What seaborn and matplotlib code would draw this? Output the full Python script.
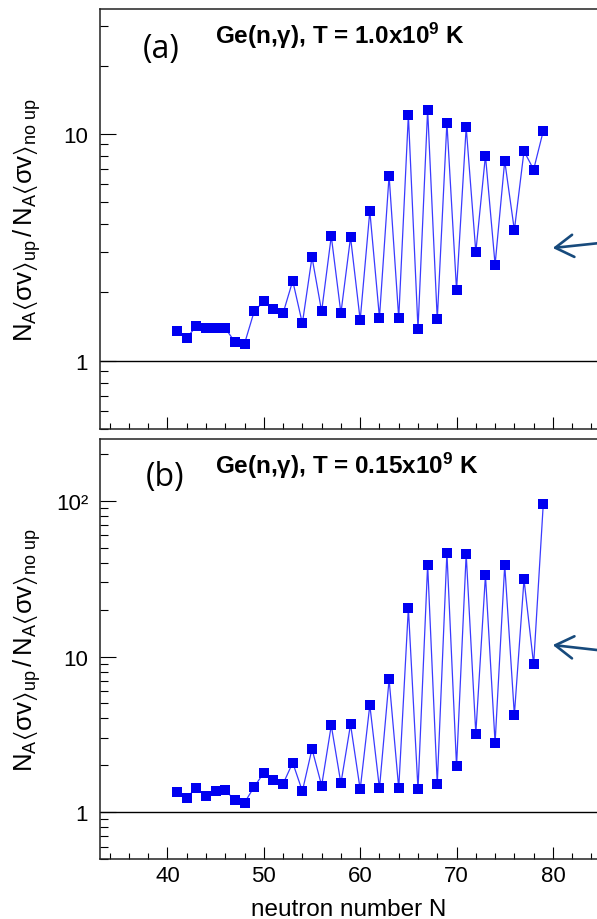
import numpy as np
import pandas as pd
import matplotlib
matplotlib.use("Agg")
import matplotlib.pyplot as plt
import matplotlib.ticker as mticker
import seaborn as sns

# ---- data ----
N = list(range(41, 80))
ratio_T10 = [1.35, 1.26, 1.42, 1.39, 1.40, 1.39, 1.21, 1.19, 1.65, 1.83,
             1.69, 1.62, 2.25, 1.46, 2.86, 1.65, 3.54, 1.62, 3.50, 1.51,
             4.57, 1.55, 6.55, 1.54, 12.1, 1.38, 12.8, 1.52, 11.2, 2.05,
             10.7, 3.01, 8.02, 2.65, 7.60, 3.76, 8.39, 6.96, 10.3]
ratio_T015 = [1.345, 1.24, 1.43, 1.27, 1.365, 1.385, 1.19, 1.15, 1.455, 1.79,
              1.60, 1.52, 2.08, 1.365, 2.55, 1.48, 3.61, 1.53, 3.66, 1.40,
              4.88, 1.42, 7.13, 1.42, 20.5, 1.40, 38.9, 1.52, 46.5, 1.97,
              45.6, 3.20, 33.4, 2.78, 38.8, 4.21, 31.3, 8.90, 95.7]
titles = ["Ge(n,$\\mathregular{\\gamma}$), T = 1.0x10$^{\\mathbf{9}}$ K",
          "Ge(n,$\\mathregular{\\gamma}$), T = 0.15x10$^{\\mathbf{9}}$ K"]
panel_tags = ["(a)", "(b)"]
ytick_vals = [[1, 10], [1, 10, 100]]
ytick_labels = [["1", "10"], ["1", "10", "10\u00b2"]]
ylims = [(0.5, 35.5), (0.5, 250)]
xticks = [40, 50, 60, 70, 80]
xlabel = "neutron number N"
ylabel = r"$\mathregular{N_A\langle\sigma v\rangle_{up}\,/\,N_A\langle\sigma v\rangle_{no\ up}}$"

sns.set_theme(style="ticks")
plt.rcParams["font.family"] = ["Liberation Sans", "DejaVu Sans"]
plt.rcParams["mathtext.fontset"] = "custom"
plt.rcParams["mathtext.rm"] = "Liberation Sans"
plt.rcParams["mathtext.it"] = "Liberation Sans:italic"
plt.rcParams["mathtext.bf"] = "Liberation Sans:bold"
for key in ["text.color", "axes.labelcolor", "xtick.color", "ytick.color"]:
    plt.rcParams[key] = "black"

W, H = 597, 920
fig = plt.figure(figsize=(W / 100, H / 100), dpi=100)

AX_L, AX_R = 100, 630

def fpos(left, top, right, bottom):
    return [left / W, 1 - bottom / H, (right - left) / W, (bottom - top) / H]

ax_a = fig.add_axes(fpos(AX_L, 10, AX_R, 430))
ax_b = fig.add_axes(fpos(AX_L, 440, AX_R, 860))

line_col = "#3a3aff"
mark_col = "#0000f0"
datasets = [ratio_T10, ratio_T015]

for i, (ax, vals) in enumerate(zip([ax_a, ax_b], datasets)):
    df = pd.DataFrame({"N": N, "ratio": vals})
    sns.lineplot(data=df, x="N", y="ratio", ax=ax, color=line_col, lw=0.9,
                 estimator=None, sort=False)
    sns.scatterplot(data=df, x="N", y="ratio", ax=ax, marker="s", s=48,
                    color=mark_col, edgecolor=mark_col, linewidth=0, zorder=3)
    ax.axhline(1.0, color="black", lw=1.0, zorder=1)
    ax.set_yscale("log")
    ax.set_xlim(33, 88)
    ax.set_ylim(*ylims[i])
    ax.set_xlabel("")
    ax.set_ylabel(ylabel, fontsize=18.5, labelpad=0, color="black")
    ax.yaxis.set_label_coords((43 - AX_L) / (AX_R - AX_L), 0.5)
    ax.yaxis.set_major_locator(mticker.FixedLocator(ytick_vals[i]))
    ax.yaxis.set_major_formatter(mticker.FixedFormatter(ytick_labels[i]))
    ax.yaxis.set_minor_locator(mticker.LogLocator(base=10, subs=np.arange(2, 10), numticks=20))
    ax.yaxis.set_minor_formatter(mticker.NullFormatter())
    ax.xaxis.set_major_locator(mticker.FixedLocator(xticks))
    ax.xaxis.set_minor_locator(mticker.MultipleLocator(2))
    ax.tick_params(axis="y", which="major", direction="in", length=11.5, width=0.8,
                   labelsize=16, pad=8.5, left=True, right=False, colors="black")
    ax.tick_params(axis="y", which="minor", direction="in", length=6, width=0.8,
                   left=True, right=False, colors="black")
    ax.tick_params(axis="x", which="major", direction="in", length=9, width=0.8,
                   labelsize=16, pad=4, top=False, bottom=True, colors="black")
    ax.tick_params(axis="x", which="minor", direction="in", length=4.3, width=0.8,
                   top=False, bottom=True, colors="black")
    for sp in ax.spines.values():
        sp.set_color("#222222")
        sp.set_linewidth(1.1)
    ax.grid(False)

ax_a.set_xticklabels([])
ax_b.set_xlabel(xlabel, fontsize=17.5, color="black")
ax_b.xaxis.set_label_coords((349 - AX_L) / (AX_R - AX_L), -0.093)

# titles and panel tags (positions in figure pixels)
fig.text(215 / W, 1 - 43.5 / H, titles[0], fontsize=17.5, fontweight="bold",
         va="baseline", ha="left", color="black")
fig.text(215 / W, 1 - 473.5 / H, titles[1], fontsize=17.5, fontweight="bold",
         va="baseline", ha="left", color="black")
fig.text(143 / W, 1 - 58 / H, panel_tags[0], fontsize=23, family="Open Sans",
         va="baseline", ha="left", color="black")
fig.text(146 / W, 1 - 486 / H, panel_tags[1], fontsize=23, family="Open Sans",
         va="baseline", ha="left", color="black")

# navy arrows coming from outside the right edge
arrow_col = "#174a7c"
for tip, tail in [((550, 920 - 249.3), (650, 920 - 238.7)),
                  ((550, 920 - 645.7), (650, 920 - 657.0))]:
    fig.add_artist(matplotlib.patches.FancyArrowPatch(
        posA=tail, posB=tip, transform=None,
        arrowstyle="->,head_length=1.3,head_width=0.8",
        mutation_scale=10, color=arrow_col, lw=1.9))

fig.savefig("out.png", dpi=100)
